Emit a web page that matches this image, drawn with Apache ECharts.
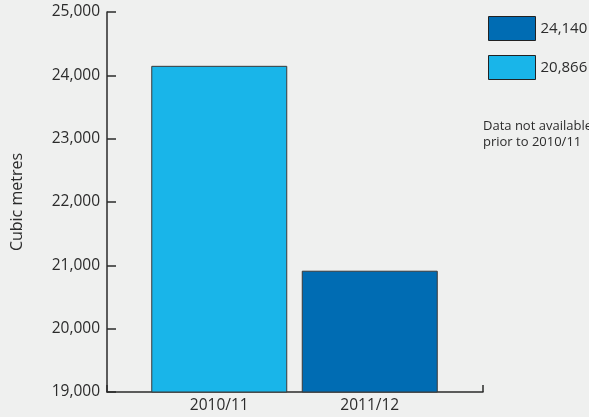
<!DOCTYPE html>
<html>
<head>
<meta charset="utf-8">
<script src="https://cdn.jsdelivr.net/npm/echarts@6/dist/echarts.min.js"></script>
<style>
  html, body { margin: 0; padding: 0; background: #eff0ef; }
  #chart { width: 589px; height: 417px; }
</style>
</head>
<body>
<div id="chart"></div>
<script>
// 两根柱子：2010/11 浅蓝，2011/12 深蓝
const categories = ["2010/11", "2011/12"];
const legendNames = ["24,140", "20,866"];
const darkValues = [null, 20915];   // 深蓝
const lightValues = [24150, null];  // 浅蓝
const yTicks = { min: 19000, max: 25000, step: 1000 };
const note = "Data not available\nprior to 2010/11";

const DARK = "#006cb3";
const LIGHT = "#19b5e9";
const INK = "#2b2b2b";
const FONT = "'Open Sans', 'Noto Sans', sans-serif";

const chart = echarts.init(document.getElementById("chart"));

chart.setOption({
  backgroundColor: "#eff0ef",
  animation: false,
  textStyle: { fontFamily: FONT },
  grid: [
    // 坐标轴框
    { left: 107, top: 12, width: 376, height: 380 },
    // 柱子所在的区域
    { left: 144, top: 12, width: 301, height: 380 },
  ],
  legend: {
    data: legendNames,
    orient: "vertical",
    left: 483,
    top: 11,
    itemWidth: 47,
    itemHeight: 24,
    itemGap: 14,
    icon: "rect",
    itemStyle: { borderColor: "#222", borderWidth: 1 },
    textStyle: { fontSize: 15, color: INK, fontFamily: FONT, padding: [0, 0, 0, 0] },
    selectedMode: false,
  },
  xAxis: [
    {
      gridIndex: 0,
      type: "value",
      min: 0,
      max: 1,
      interval: 1,
      axisLine: { show: true, lineStyle: { color: INK, width: 1.5 } },
      axisTick: { show: true, inside: true, length: 7, lineStyle: { color: INK, width: 1.5 } },
      axisLabel: { show: false },
      splitLine: { show: false },
    },
    {
      gridIndex: 1,
      type: "category",
      data: categories,
      axisLine: { show: false },
      axisTick: { show: false },
      axisLabel: { fontSize: 15.5, color: INK, margin: 6 },
    },
  ],
  yAxis: [
    {
      gridIndex: 0,
      type: "value",
      min: yTicks.min,
      max: yTicks.max,
      interval: yTicks.step,
      name: "Cubic metres",
      nameLocation: "middle",
      nameGap: 82,
      nameTextStyle: { fontSize: 16, color: INK },
      axisLine: { show: true, lineStyle: { color: INK, width: 1.5 } },
      axisTick: { show: true, inside: true, length: 9, lineStyle: { color: INK, width: 1.5 } },
      axisLabel: {
        fontSize: 15.5,
        color: INK,
        margin: 7,
        formatter: (v) => v.toLocaleString("en-US"),
      },
      splitLine: { show: false },
    },
    {
      gridIndex: 1,
      type: "value",
      min: yTicks.min,
      max: yTicks.max,
      show: false,
    },
  ],
  series: [
    {
      name: legendNames[0],
      type: "bar",
      xAxisIndex: 1,
      yAxisIndex: 1,
      data: darkValues,
      barWidth: 136,
      barGap: "-100%",
      itemStyle: { color: DARK, borderColor: "#3a3a3a", borderWidth: 1 },
    },
    {
      name: legendNames[1],
      type: "bar",
      xAxisIndex: 1,
      yAxisIndex: 1,
      data: lightValues,
      barWidth: 136,
      barGap: "-100%",
      itemStyle: { color: LIGHT, borderColor: "#3a3a3a", borderWidth: 1 },
    },
  ],
  graphic: [
    {
      type: "text",
      left: 483,
      top: 118,
      style: { text: note, fontSize: 13, lineHeight: 16, fill: INK, fontFamily: FONT },
    },
  ],
});

window.addEventListener("resize", () => chart.resize());
</script>
</body>
</html>
